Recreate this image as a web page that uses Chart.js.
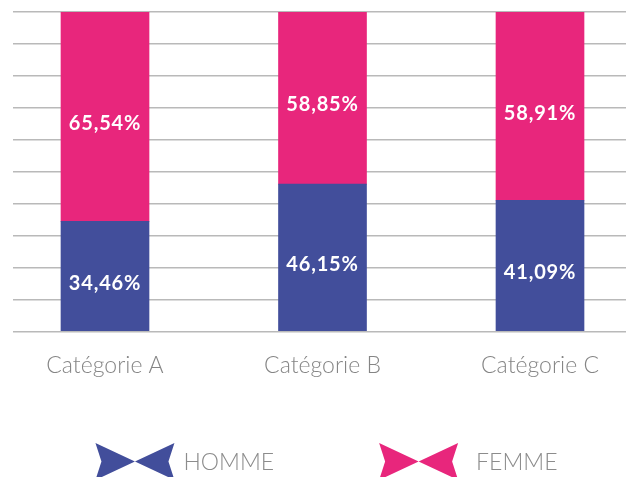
<!DOCTYPE html>
<html><head><meta charset="utf-8">
<script src="https://cdn.jsdelivr.net/npm/chart.js@4/dist/chart.umd.min.js"></script>
<style>html,body{margin:0;padding:0;background:#fff;overflow:hidden}
#wrap{width:626px;height:477px;position:relative}</style></head>
<body><div id="wrap"><canvas id="c" width="626" height="477"></canvas></div>
<script>
// ---- data ----
const categories = ['Catégorie A', 'Catégorie B', 'Catégorie C'];
const homme = [34.46, 46.15, 41.09];
const femme = [65.54, 58.85, 58.91];
const seriesNames = ['HOMME', 'FEMME'];
const yMin = 0, yMax = 100, yStep = 10;

const BLUE = '#424e9b', PINK = '#e8267c';

function toPoints(arr){ return arr.map((v, i) => ({x: i, y: v})); }
function fmt(v){ return v.toFixed(2).replace('.', ',') + '%'; }

const valueLabels = {
  id: 'valueLabels',
  afterDatasetsDraw(chart){
    const ctx = chart.ctx, area = chart.chartArea;
    ctx.save();
    ctx.font = 'bold 20px Lato, "Open Sans", sans-serif';
    try { ctx.letterSpacing = '0.8px'; } catch(e) {}
    ctx.fillStyle = '#ffffff';
    ctx.textAlign = 'center';
    ctx.textBaseline = 'middle';
    chart.data.datasets.forEach((ds, di) => {
      const meta = chart.getDatasetMeta(di);
      meta.data.forEach((bar, i) => {
        const top = Math.max(Math.min(bar.y, bar.base), area.top);
        const bottom = Math.min(Math.max(bar.y, bar.base), area.bottom);
        ctx.fillText(fmt(ds.data[i].y), bar.x, (top + bottom) / 2 + 7);
      });
    });
    ctx.restore();
  }
};

const bowLegend = {
  id: 'bowLegend',
  afterDraw(chart){
    const ctx = chart.ctx, area = chart.chartArea;
    const w = 79, h = 37, notch = 6, gapTexts = [9, 18], gapItem = 105;
    ctx.save();
    ctx.font = '300 23px Lato, "Open Sans", sans-serif';
    const items = chart.data.datasets.map((ds, i) => ({label: ds.label, color: ds.backgroundColor, tw: ctx.measureText(ds.label).width, gt: gapTexts[i] || 9}));
    let total = 0;
    items.forEach((it, i) => { total += w + it.gt + it.tw + (i ? gapItem : 0); });
    let x = (area.left + area.right) / 2 - total / 2 + 7;
    const yTop = 443, yMid = yTop + h / 2;
    items.forEach((it) => {
      ctx.fillStyle = it.color;
      ctx.beginPath();
      ctx.moveTo(x, yTop);
      ctx.lineTo(x + w / 2, yMid);
      ctx.lineTo(x + w, yTop);
      ctx.lineTo(x + w - notch, yMid);
      ctx.lineTo(x + w, yTop + h);
      ctx.lineTo(x + w / 2, yMid);
      ctx.lineTo(x, yTop + h);
      ctx.lineTo(x + notch, yMid);
      ctx.closePath();
      ctx.fill();
      ctx.fillStyle = '#8c8c8c';
      ctx.textAlign = 'left';
      ctx.textBaseline = 'alphabetic';
      ctx.fillText(it.label, x + w + it.gt, 469.5);
      x += w + it.gt + it.tw + gapItem;
    });
    ctx.restore();
  }
};

new Chart(document.getElementById('c'), {
  type: 'bar',
  data: {
    datasets: [
      {label: seriesNames[0], data: toPoints(homme), backgroundColor: BLUE, barThickness: 88, clip: 0},
      {label: seriesNames[1], data: toPoints(femme), backgroundColor: PINK, barThickness: 88, clip: 0}
    ]
  },
  options: {
    responsive: false,
    animation: false,
    devicePixelRatio: 1,
    layout: {padding: {left: 13, top: 12, right: 0, bottom: 98}},
    plugins: {legend: {display: false}, tooltip: {enabled: false}, title: {display: false}},
    scales: {
      x: {
        type: 'linear',
        stacked: true,
        offset: false,
        min: -0.423,
        max: 2.3954,
        grid: {display: false, offset: false, drawTicks: false},
        border: {display: false},
        afterFit: (s) => { s.height = 47.5; },
        ticks: {
          stepSize: 1,
          includeBounds: false,
          autoSkip: false,
          maxRotation: 0,
          padding: 20,
          color: '#858585',
          font: {family: 'Lato, "Open Sans", sans-serif', size: 23, weight: '300'},
          callback: (v) => categories[v] !== undefined ? categories[v] : ''
        }
      },
      y: {
        stacked: true,
        min: yMin,
        max: yMax,
        grid: {color: '#b9b9b9', lineWidth: 1.5, drawTicks: false},
        border: {display: false},
        ticks: {display: false, stepSize: yStep}
      }
    }
  },
  plugins: [valueLabels, bowLegend]
});
</script>
</body></html>
